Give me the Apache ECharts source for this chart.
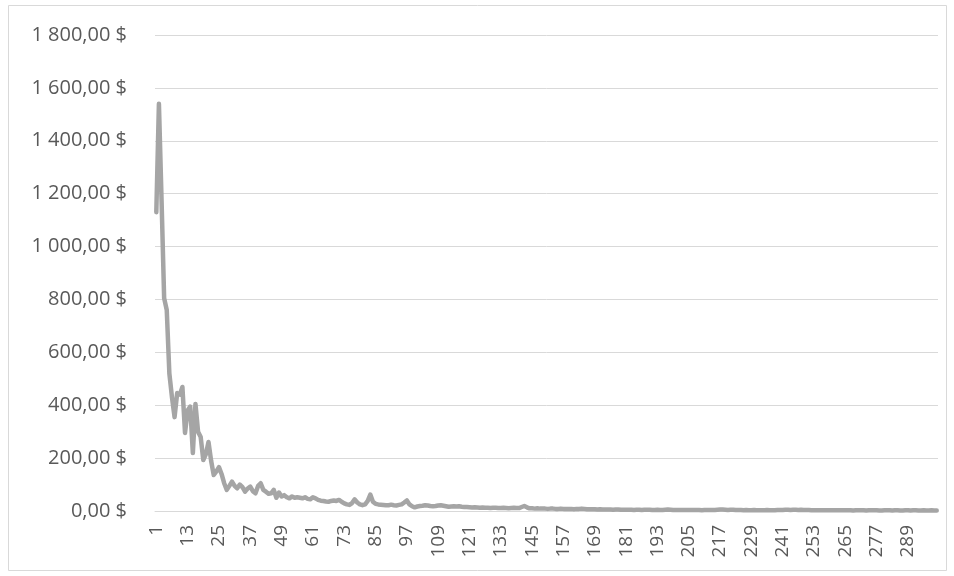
<!DOCTYPE html>
<html>
<head>
<meta charset="utf-8">
<script src="https://cdn.jsdelivr.net/npm/echarts@6/dist/echarts.min.js"></script>
<style>
html,body{margin:0;padding:0;background:#fff;}
#chart{width:954px;height:576px;}
</style>
</head>
<body>
<div id="chart"></div>
<script>
// Category labels 1..300
var categories = [];
for (var k = 1; k <= 300; k++) categories.push(String(k));

// Series values (in $)
var values1to40 = [
  1130,1540,1180,805,760,520,430,355,446,440,
  469,295,380,395,219,405,300,280,193,215,
  261,190,136,150,166,140,105,80,95,111,
  95,86,100,90,73,85,92,75,67,95
];
var values41to80 = [
  105,80,73,65,67,80,50,70,55,60,
  52,48,55,50,52,50,48,52,46,44,
  52,48,42,39,38,36,35,38,40,38,
  42,35,29,25,23,30,44,32,25,22
];
var values81to120 = [
  25,38,62,35,27,25,24,23,22,22,
  24,22,21,23,25,32,40,25,18,14,
  17,19,20,22,21,19,18,19,21,22,
  20,18,16,17,18,17,18,16,15,15
];
var values121to200 = [
  14,13,14,13,12,13,12,12,11,12,12,11,11,12,11,10,11,12,11,11,
  15,19,14,10,10,9,10,9,9,9,8,9,9,8,8,9,8,8,8,8,
  7,8,8,9,8,7,7,7,7,6,7,6,6,6,6,5,6,6,5,5,
  5,5,5,4,5,5,4,5,5,5,4,4,5,4,4,5,6,5,4,4
];
var values201to300 = [
  4,4,4,4,4,4,4,4,4,3,4,4,4,4,4,5,6,6,5,4,
  5,5,4,4,4,3,4,3,3,4,3,3,3,3,4,3,3,3,4,4,
  4,5,5,4,5,5,4,5,4,4,4,3,3,3,3,3,3,3,3,3,
  3,3,3,3,3,3,3,2,3,3,3,3,2,3,3,3,3,2,2,3,
  3,3,2,3,3,2,2,3,3,2,3,3,2,2,3,2,2,3,2,2
];
var seriesValues = [].concat(values1to40, values41to80, values81to120, values121to200, values201to300);

function fmtMoney(v) {
  var s = Math.round(v).toString();
  var out = '';
  while (s.length > 3) { out = ' ' + s.slice(-3) + out; s = s.slice(0, -3); }
  out = s + out;
  return out + ',00 $';
}

var chart = echarts.init(document.getElementById('chart'), null, {renderer: 'canvas'});
var FONT = 'Open Sans';
chart.setOption({
  animation: false,
  backgroundColor: '#ffffff',
  graphic: [{
    type: 'rect',
    shape: {x: 8.5, y: 5.5, width: 938, height: 565},
    style: {fill: 'none', stroke: '#d9d9d9', lineWidth: 1},
    silent: true
  }],
  grid: {left: 155, right: 16, top: 35, bottom: 65, containLabel: false},
  xAxis: {
    type: 'category',
    data: categories,
    boundaryGap: true,
    axisLine: {show: true, lineStyle: {color: '#d9d9d9', width: 1}},
    axisTick: {show: false},
    axisLabel: {
      interval: 11,
      rotate: 90,
      margin: 14,
      color: '#595959',
      fontSize: 19,
      fontFamily: FONT
    },
    splitLine: {show: false}
  },
  yAxis: {
    type: 'value',
    min: 0,
    max: 1800,
    interval: 200,
    axisLine: {show: false},
    axisTick: {show: false},
    axisLabel: {
      margin: 28,
      color: '#595959',
      fontSize: 20,
      fontFamily: FONT,
      formatter: fmtMoney
    },
    splitLine: {show: true, lineStyle: {color: '#d9d9d9', width: 1}}
  },
  series: [{
    type: 'line',
    data: seriesValues,
    showSymbol: false,
    symbol: 'none',
    smooth: false,
    lineStyle: {color: '#a5a5a5', width: 4.5, join: 'round', cap: 'round'},
    itemStyle: {color: '#a5a5a5'}
  }]
});
</script>
</body>
</html>
